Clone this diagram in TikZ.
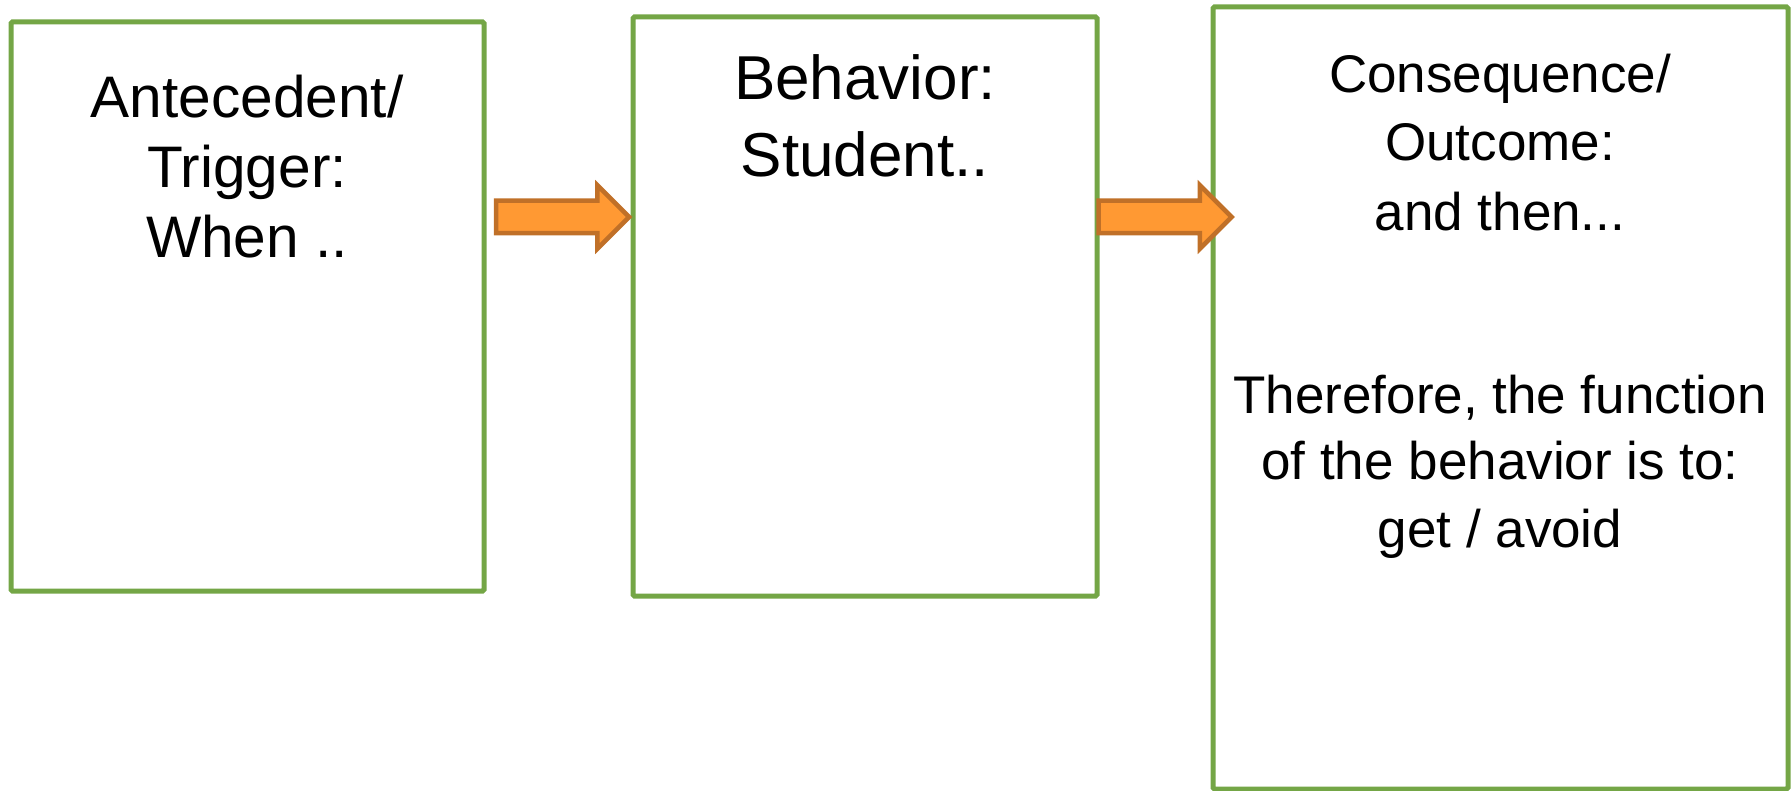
\documentclass[tikz,border=0pt]{standalone}
\usepackage{fontspec}
\setmainfont{Liberation Sans}
\usetikzlibrary{shapes.arrows}
\definecolor{boxgreen}{RGB}{116,166,70}
\definecolor{arrowfill}{RGB}{255,153,51}
\definecolor{arrowline}{RGB}{192,112,40}
\begin{document}
\begin{tikzpicture}[x=1pt,y=-1pt,
  abcbox/.style={draw=boxgreen, line width=5pt, fill=white, rounded corners=1.5pt,
    inner sep=0pt, rectangle},
  blockarrow/.style={single arrow, draw=arrowline, fill=arrowfill, line width=4.5pt,
    inner sep=0pt, text height=28pt, text depth=0pt,
    single arrow head extend=15.5pt, single arrow tip angle=90,
    minimum width=59pt, minimum height=133pt, line join=miter},
  lineA/.style={anchor=base, inner sep=0pt, font=\fontsize{58.6}{70}\selectfont},
  lineB/.style={anchor=base, inner sep=0pt, font=\fontsize{62}{74}\selectfont},
  lineC/.style={anchor=base, inner sep=0pt, font=\fontsize{53}{64}\selectfont}]
\useasboundingbox (0,0) rectangle (1792,791);

% the three ABC boxes
\node[abcbox, minimum width=473pt, minimum height=569pt] (ante) at (247.5,306.5) {};
\node[abcbox, minimum width=464pt, minimum height=579pt] (beh) at (865,306.5) {};
\node[abcbox, minimum width=575pt, minimum height=782pt] (cons) at (1500.5,398) {};

% block arrows between the boxes
\node[blockarrow] (arA) at (554.5,217) {};
\node[blockarrow] (arB) at (1157,217) {};

% antecedent text
\node[lineA] (a1) at (247,118) {Antecedent/};
\node[lineA] (a2) at (247,188) {Trigger:};
\node[lineA] (a3) at (247,258) {When ..};

% behavior text
\node[lineB] (b1) at (865,100) {Behavior:};
\node[lineB] (b2) at (865,177) {Student..};

% consequence text
\node[lineC] (c1) at (1500,93) {Consequence/};
\node[lineC] (c2) at (1500,161) {Outcome:};
\node[lineC] (c3) at (1500,231) {and then...};
\node[lineC] (c4) at (1500,414) {Therefore, the function};
\node[lineC] (c5) at (1500,480) {of the behavior is to:};
\node[lineC] (c6) at (1500,547) {get / avoid};
\end{tikzpicture}
\end{document}
